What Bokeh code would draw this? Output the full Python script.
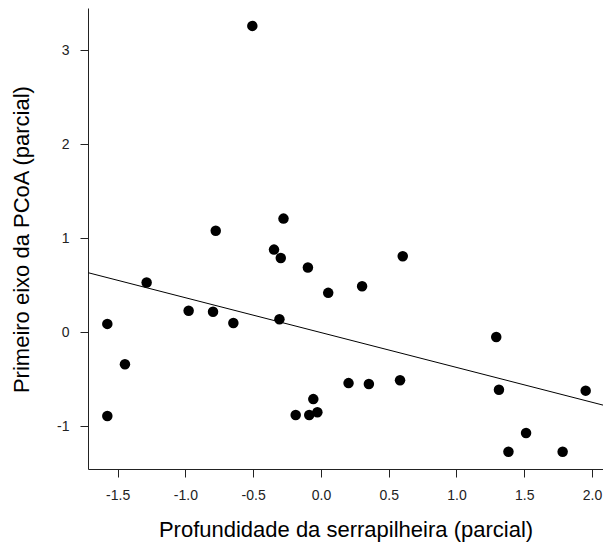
import numpy as np
from bokeh.plotting import figure
from bokeh.models import Range1d, FixedTicker, PrintfTickFormatter, Slope
from bokeh.embed import file_html
from bokeh.resources import INLINE

# Partial residuals: litter depth vs. first PCoA axis
litter_depth = [-0.51, -0.78, -0.28, -0.35, -0.30, -1.29, -1.58, -1.45, -1.58, -0.98,
                -0.80, -0.65, -0.31, -0.19, -0.10, 0.60, 0.05, 0.30, 1.29, 0.20,
                0.35, 0.58, 1.31, 1.95, 1.51, 1.38, 1.78, -0.06, -0.09, -0.03]
pcoa_axis1 = [3.26, 1.08, 1.21, 0.88, 0.79, 0.53, 0.09, -0.34, -0.89, 0.23,
              0.22, 0.10, 0.14, -0.88, 0.69, 0.81, 0.42, 0.49, -0.05, -0.54,
              -0.55, -0.51, -0.61, -0.62, -1.07, -1.27, -1.27, -0.71, -0.88, -0.85]

x_ticks = [-1.5, -1.0, -0.5, 0.0, 0.5, 1.0, 1.5, 2.0]
y_ticks = [-1, 0, 1, 2, 3]

x_label = "Profundidade da serrapilheira (parcial)"
y_label = "Primeiro eixo da PCoA (parcial)"

# least-squares line through the partial residuals
slope, intercept = np.polyfit(litter_depth, pcoa_axis1, 1)

FONT = "Liberation Sans"

p = figure(width=603, height=545, output_backend="svg", toolbar_location=None,
           x_range=Range1d(-1.719, 2.0815), y_range=Range1d(-1.459, 3.445),
           min_border_left=88, min_border_right=0, min_border_top=8,
           min_border_bottom=76)

p.outline_line_color = None
p.grid.visible = False
p.background_fill_color = "white"
p.border_fill_color = "white"

p.scatter(litter_depth, pcoa_axis1, size=10.5, fill_color="black",
          line_color="black", line_width=0)

p.add_layout(Slope(gradient=slope, y_intercept=intercept,
                   line_color="black", line_width=1))

p.xaxis.ticker = FixedTicker(ticks=x_ticks)
p.yaxis.ticker = FixedTicker(ticks=y_ticks)
p.xaxis.formatter = PrintfTickFormatter(format="%.1f")
p.yaxis.formatter = PrintfTickFormatter(format="%d")

for ax in (p.xaxis, p.yaxis):
    ax.axis_line_color = "#222222"
    ax.major_tick_line_color = "#222222"
    ax.major_tick_in = 0
    ax.major_tick_out = 8
    ax.minor_tick_line_color = None
    ax.major_label_text_font = FONT
    ax.major_label_text_font_size = "14px"
    ax.major_label_text_color = "#222222"
    ax.axis_label_text_font = FONT
    ax.axis_label_text_font_size = "22px"
    ax.axis_label_text_font_style = "normal"
    ax.axis_label_text_color = "black"

p.xaxis.axis_label = x_label
p.yaxis.axis_label = y_label
p.xaxis.major_label_standoff = 12
p.yaxis.major_label_standoff = 11
p.xaxis.axis_label_standoff = 14
p.yaxis.axis_label_standoff = 20

open("out.html", "w").write(file_html(p, INLINE))
